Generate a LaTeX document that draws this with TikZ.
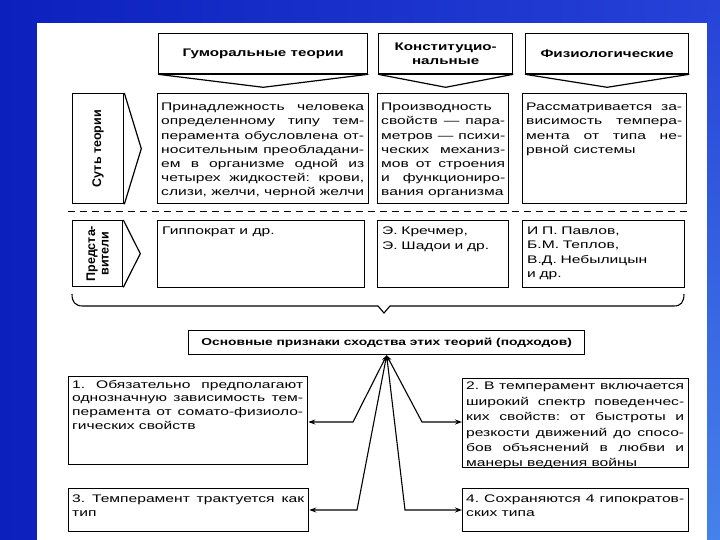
\documentclass[tikz,border=0pt]{standalone}
\usepackage{fontspec}
\setmainfont{Liberation Sans}[FakeStretch=1.42, BoldFeatures={FakeStretch=1.38}]
\newfontfamily\lblfont{Liberation Sans}
\usetikzlibrary{arrows.meta,calc}
\definecolor{bgL}{RGB}{12,32,190}
\definecolor{bgR}{RGB}{38,66,215}
\definecolor{bgB}{RGB}{70,130,235}
\tolerance=10000
\hbadness=10000
\frenchspacing
\begin{document}
\begin{tikzpicture}[x=1pt,y=-1pt,
  bx/.style={draw, line width=1.3pt, inner sep=0pt, anchor=north west},
  hd/.style={bx, font=\bfseries\fontsize{11}{14}\selectfont, align=center},
  tx/.style={anchor=north west, inner sep=0pt, align=justify, font=\fontsize{11}{14.2}\selectfont},
  tb/.style={tx, font=\fontsize{11}{13.7}\selectfont},
  tc/.style={tx, font=\fontsize{11}{15.4}\selectfont},
  lab/.style={rotate=90, font=\lblfont\bfseries\fontsize{12.5}{13.5}\selectfont, align=center},
  cn/.style={line width=1.1pt},
  vee/.style={line width=1.2pt, line join=miter},
  arr/.style={cn, {Stealth[length=6pt,width=4.5pt]}-{Stealth[length=7pt,width=5pt]}}
]
\useasboundingbox (0,0) rectangle (720,540);
% background
\shade[left color=bgL, right color=bgR] (0,0) rectangle (720,540);
\shade[top color=bgR, bottom color=bgB] (707,0) rectangle (720,540);
\fill[white] (37,23) rectangle (707,540);

% headers
\node[hd, minimum width=209pt, minimum height=40pt] (H1) at (158,33) {Гуморальные теории};
\node[hd, minimum width=134pt, minimum height=40pt] (H2) at (378,33) {Конституцио-\\нальные};
\node[hd, minimum width=163pt, minimum height=40pt] (H3) at (525,33) {Физиологические};
\foreach \h in {H1,H2,H3}{
  \draw[line width=2.4pt] (\h.south west) -- (\h.south east);
  \draw[vee] (\h.south west) -- ($(\h.south)+(0pt,-13pt)$) -- (\h.south east);
}

% left labels
\node[bx, minimum width=51pt, minimum height=110pt] (L1) at (72,93) {};
\node[lab] (L1t) at (L1.center) {Суть теории};
\draw[vee] (L1.north east) -- ($(L1.east)+(17pt,0pt)$) -- (L1.south east);
\node[bx, minimum width=50pt, minimum height=66pt] (L2) at (72,220) {};
\node[lab] (L2t) at (L2.center) {Предста-\\вители};
\draw[vee] (L2.north east) -- ($(L2.east)+(17pt,0pt)$) -- (L2.south east);

% row 1
\node[bx, minimum width=211pt, minimum height=110pt] (A) at (157,93) {};
\node[tx, text width=203pt] (At) at ($(A.north west)+(4pt,-10pt)$) {Принадлежность человека\linebreak
определенному типу тем-\linebreak
перамента обусловлена от-\linebreak
носительным преобладани-\linebreak
ем в организме одной из\linebreak
четырех жидкостей: крови,\linebreak
слизи, желчи, черной желчи};
\node[bx, minimum width=131pt, minimum height=110pt] (B) at (377,93) {};
\node[tx, text width=124pt] (Bt) at ($(B.north west)+(4pt,-10pt)$) {Производность\linebreak
свойств — пара-\linebreak
метров — психи-\linebreak
ческих механиз-\linebreak
мов от строения\linebreak
и функциониро-\linebreak
вания организма};
\node[bx, minimum width=164pt, minimum height=110pt] (C) at (522,93) {};
\node[tx, text width=156pt] (Ct) at ($(C.north west)+(4pt,-10pt)$) {Рассматривается за-\linebreak
висимость темпера-\linebreak
мента от типа не-\linebreak
рвной системы};

% separator
\draw[line width=1pt, dash pattern=on 7pt off 5pt] (68,212) -- (690,212);

% row 2
\node[bx, minimum width=207pt, minimum height=67pt] (A2) at (157,220) {};
\node[tx, text width=199pt] (A2t) at ($(A2.north west)+(5pt,-7pt)$) {Гиппократ и др.};
\node[bx, minimum width=131pt, minimum height=67pt] (B2) at (377,220) {};
\node[tx, text width=123pt, align=left] (B2t) at ($(B2.north west)+(5pt,-7pt)$) {Э. Кречмер,\\Э. Шадои и др.};
\node[bx, minimum width=162pt, minimum height=67pt] (C2) at (522,220) {};
\node[tx, text width=154pt, align=left] (C2t) at ($(C2.north west)+(5pt,-7pt)$) {И П. Павлов,\\Б.М. Теплов,\\В.Д. Небылицын\\и др.};

% brace
\draw[line width=1.1pt] (72,294) .. controls (72,302) and (75,306) .. (83,306) -- (378,306) -- (384,313) -- (390,306) -- (674,306) .. controls (681,306) and (684,302) .. (684,294);

% summary
\node[hd, minimum width=396pt, minimum height=24pt, font=\bfseries\fontsize{10}{12}\selectfont] (S) at (188,330) {Основные признаки сходства этих теорий (подходов)};

% bottom boxes
\node[bx, minimum width=239pt, minimum height=88pt] (P1) at (68,376) {};
\node[tb, text width=231pt] (P1t) at ($(P1.north west)+(4pt,-4pt)$) {1. Обязательно предполагают\linebreak
однозначную зависимость тем-\linebreak
перамента от сомато-физиоло-\linebreak
гических свойств};
\node[bx, minimum width=226pt, minimum height=89pt] (P2) at (462,378) {};
\node[tc, text width=218pt] (P2t) at ($(P2.north west)+(4pt,-4pt)$) {2. В темперамент включается\linebreak
широкий спектр поведенчес-\linebreak
ких свойств: от быстроты и\linebreak
резкости движений до спосо-\linebreak
бов объяснений в любви и\linebreak
манеры ведения войны};
\node[bx, minimum width=240pt, minimum height=43pt] (P3) at (68,488) {};
\node[tb, text width=232pt] (P3t) at ($(P3.north west)+(4pt,-7pt)$) {3. Темперамент трактуется как\linebreak тип};
\node[bx, minimum width=226pt, minimum height=43pt] (P4) at (462,488) {};
\node[tb, text width=218pt] (P4t) at ($(P4.north west)+(4pt,-7pt)$) {4. Сохраняются 4 гипократов-\linebreak ских типа};

% connectors
\coordinate (j1) at (353,422);
\coordinate (j2) at (422,422);
\coordinate (j3) at (357,510);
\coordinate (j4) at (405,510);
\draw[arr] (S.south) -- (j1) -- (P1.east |- j1);
\draw[arr] (S.south) -- (j2) -- (P2.west |- j2);
\draw[arr] (S.south) -- (j3) -- (P3.east |- j3);
\draw[arr] (S.south) -- (j4) -- (P4.west |- j4);
\end{tikzpicture}
\end{document}
